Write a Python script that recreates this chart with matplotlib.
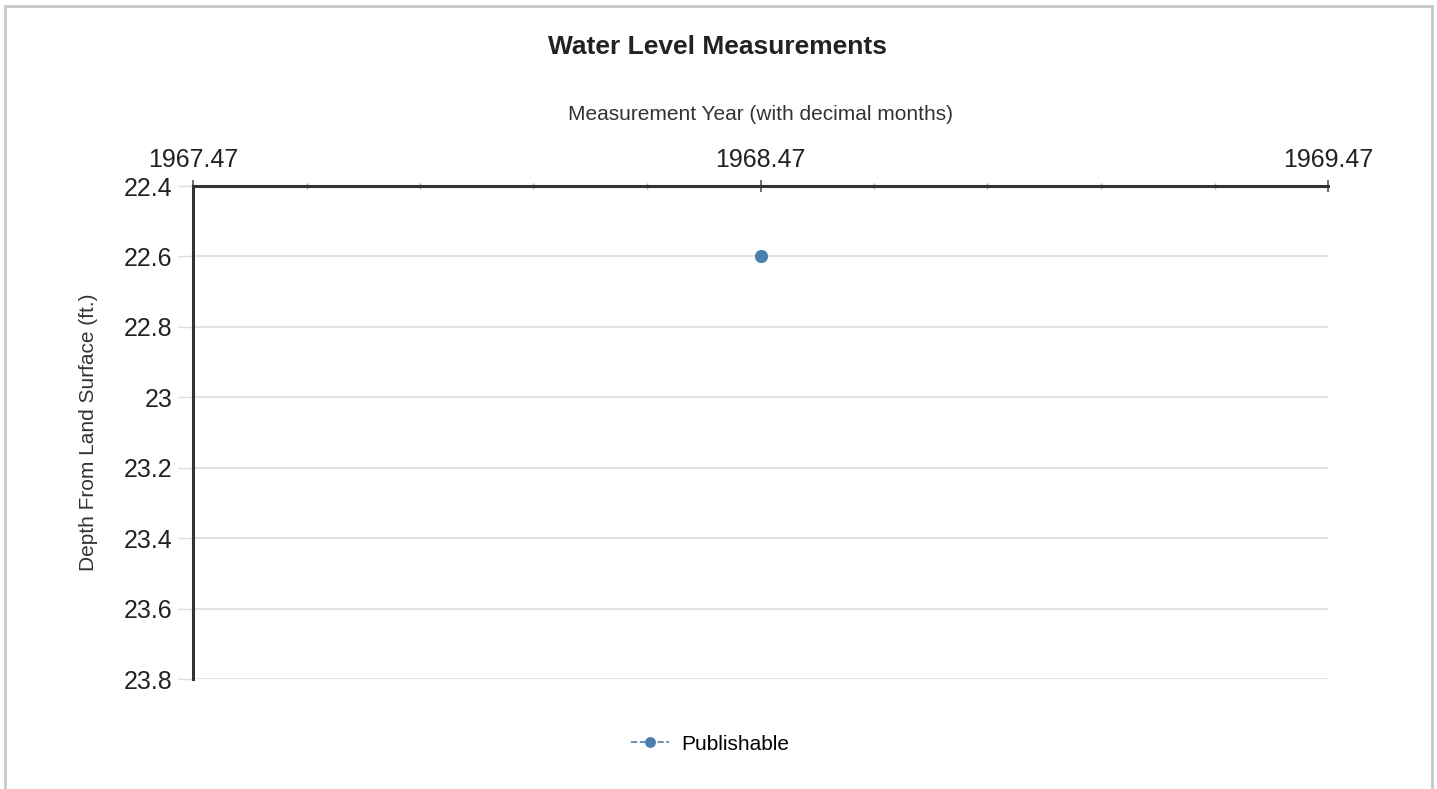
import numpy as np
import matplotlib.pyplot as plt
from matplotlib.patches import Rectangle
from matplotlib.ticker import MultipleLocator, FixedLocator

plt.rcParams['font.family'] = ['Liberation Sans', 'DejaVu Sans']

# measurement data
years = [1968.47]
depths = [22.6]
series_name = "Publishable"

x_ticks = [1967.47, 1968.47, 1969.47]
x_tick_labels = ["1967.47", "1968.47", "1969.47"]
y_ticks = [22.4, 22.6, 22.8, 23.0, 23.2, 23.4, 23.6, 23.8]
y_tick_labels = ["22.4", "22.6", "22.8", "23", "23.2", "23.4", "23.6", "23.8"]


def main():
    fig = plt.figure(figsize=(14.37, 7.89), dpi=100)

    # light frame around the whole chart
    fig.patches.append(Rectangle((5 / 1437, -0.05), 1427 / 1437, 1.05 - 6 / 789,
                                 transform=fig.transFigure, fill=False,
                                 edgecolor="#c8c8c8", linewidth=2))

    ax = fig.add_axes([193 / 1437, 1 - 679 / 789, 1135 / 1437, 493 / 789])

    ax.plot(years, depths, linestyle="--", color="#4a7fb0", marker="o",
            markersize=8.5, linewidth=1.2, label=series_name, zorder=3)

    ax.set_xlim(1967.47, 1969.47)
    ax.set_ylim(23.8, 22.4)

    ax.xaxis.tick_top()
    ax.xaxis.set_label_position("top")
    ax.xaxis.set_major_locator(FixedLocator(x_ticks))
    ax.set_xticklabels(x_tick_labels)
    ax.xaxis.set_minor_locator(MultipleLocator(0.2, offset=0.07))
    ax.tick_params(axis="x", which="major", direction="inout", length=8, width=1.2,
                   color="#555555", labelsize=18, pad=6, labelcolor="#222222")
    ax.tick_params(axis="x", which="minor", direction="inout", length=5, width=1,
                   color="#aaaaaa", top=True, bottom=False)

    ax.set_yticks(y_ticks)
    ax.set_yticklabels(y_tick_labels)
    ax.tick_params(axis="y", which="major", direction="out", length=11, width=1,
                   color="#dddddd", labelsize=18, pad=4, labelcolor="#222222")

    ax.grid(axis="y", color="#dddddd", linewidth=1.2)
    ax.set_axisbelow(True)

    for side in ["right", "bottom"]:
        ax.spines[side].set_visible(False)
    for side in ["top", "left"]:
        ax.spines[side].set_color("#333333")
        ax.spines[side].set_linewidth(2.2)

    ax.set_xlabel("Measurement Year (with decimal months)", fontsize=15,
                  color="#333333", labelpad=20)
    ax.set_ylabel("Depth From Land Surface (ft.)", fontsize=15, color="#333333",
                  labelpad=18)

    fig.text(717 / 1437, 1 - 47 / 789, "Water Level Measurements", ha="center",
             va="center", fontsize=19, fontweight="bold", color="#222222")

    fig.legend(loc="center", bbox_to_anchor=(710 / 1437, 1 - 744 / 789),
               frameon=False, fontsize=15, handlelength=1.8, handletextpad=0.6,
               markerscale=0.8)

    fig.savefig("out.png", dpi=100)


if __name__ == "__main__":
    main()
